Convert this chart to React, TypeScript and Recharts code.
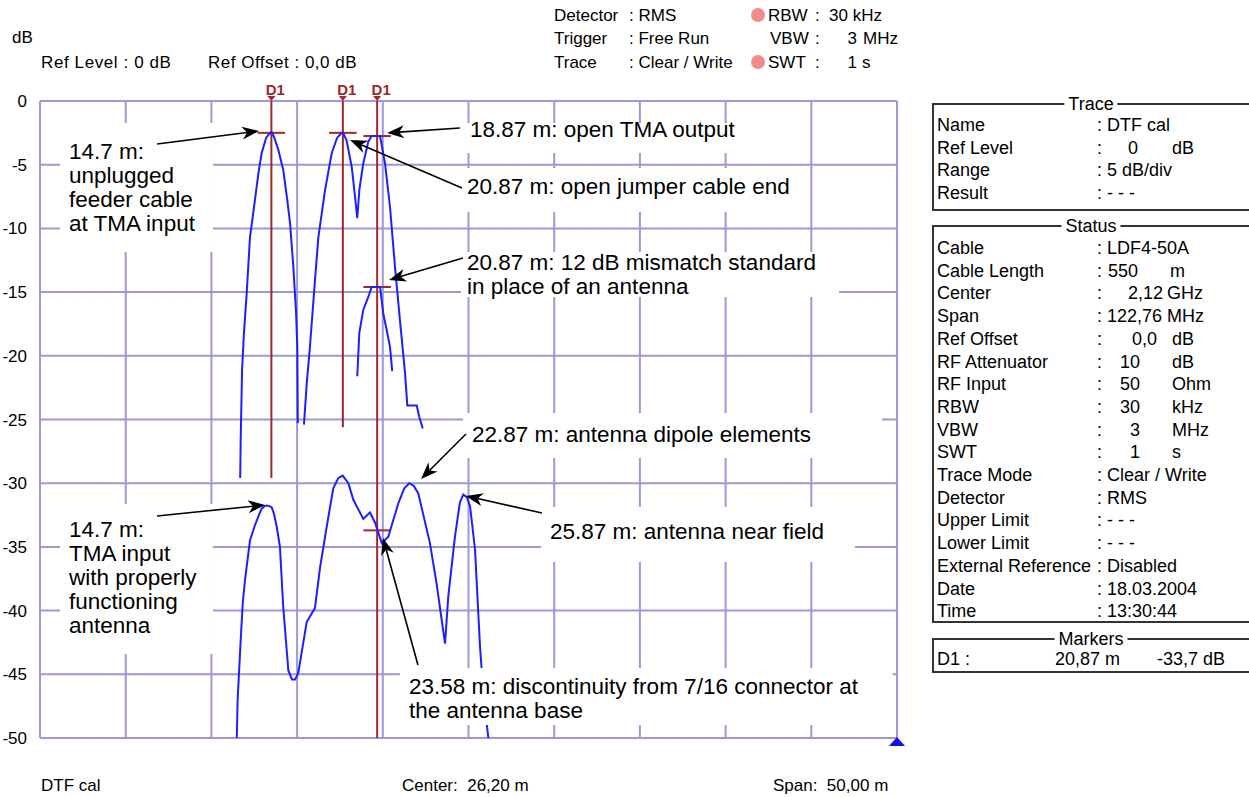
import React from 'react';
import {
  LineChart,
  Line,
  XAxis,
  YAxis,
  CartesianGrid,
  ReferenceLine,
  ReferenceArea,
  ReferenceDot,
} from 'recharts';

// ---------- axes ----------
const xTicks = [1.2, 6.2, 11.2, 16.2, 21.2, 26.2, 31.2, 36.2, 41.2, 46.2, 51.2];
const yTicks = [0, -5, -10, -15, -20, -25, -30, -35, -40, -45, -50];

// ---------- traces (distance m, level dB) ----------
const distA = [12.88, 12.91, 12.99, 13.1, 13.26, 13.45, 13.64, 13.94, 14.13, 14.39, 14.62, 14.71, 14.85, 15.1, 15.39, 15.63, 15.79, 15.98, 16.14, 16.21, 16.24];
const levelA = [-29.6, -26.5, -21.1, -18.2, -15.1, -10.7, -8.8, -5.7, -4.1, -2.9, -2.5, -2.45, -2.8, -3.8, -5.4, -7.8, -9.6, -13.0, -16.6, -19.3, -25.3];

const distB = [16.6, 16.76, 16.95, 17.24, 17.44, 17.83, 18.22, 18.53, 18.8, 18.88, 19.09, 19.39, 19.58, 19.71, 19.83, 20.06, 20.35, 20.55, 21.04, 21.33, 21.62, 21.91, 22.2, 22.5, 22.63, 23.18, 23.33, 23.53];
const levelB = [-25.4, -22.2, -19.3, -14.1, -10.7, -7.0, -4.1, -2.9, -2.5, -2.5, -3.1, -5.2, -7.5, -9.2, -7.0, -4.9, -3.2, -2.75, -2.75, -4.9, -8.3, -13.0, -17.2, -21.4, -23.9, -23.9, -24.8, -25.7];

const distC = [19.71, 19.83, 20.06, 20.35, 20.55, 21.04, 21.23, 21.43, 21.62, 21.75];
const levelC = [-21.6, -18.2, -16.4, -15.4, -14.6, -14.6, -16.7, -18.0, -19.3, -21.2];

const distD = [12.68, 12.73, 12.91, 13.03, 13.16, 13.45, 13.74, 14.0, 14.13, 14.3, 14.43, 14.6, 14.72, 14.85, 15.01, 15.2, 15.39, 15.69, 15.9, 16.08, 16.27, 16.76, 17.24, 17.54, 17.93, 18.31, 18.6, 18.86, 19.19, 19.48, 20.06, 20.45, 20.75, 21.14, 21.52, 22.1, 22.45, 22.75, 23.0, 23.27, 23.95, 24.34, 24.83, 25.02, 25.41, 25.7, 25.9, 26.1, 26.29, 26.58, 26.87, 27.1, 27.36];
const levelD = [-50, -47.0, -42.3, -39.4, -37.6, -34.5, -33.3, -32.4, -32.0, -31.8, -31.75, -31.8, -31.9, -32.4, -33.4, -35.0, -39.7, -44.7, -45.4, -45.4, -44.9, -40.9, -39.8, -36.6, -33.4, -30.4, -29.6, -29.4, -30.0, -31.3, -32.8, -32.3, -33.1, -34.7, -34.2, -31.6, -30.4, -30.0, -30.2, -30.8, -34.7, -37.9, -42.6, -38.9, -34.2, -31.5, -30.9, -31.1, -31.8, -35.2, -42.8, -47.0, -50];

// ---------- markers ----------
const markerDist = [14.7, 18.87, 20.87];
const markerBottom = [-29.6, -25.6, -50];
const markerTickDist = [14.7, 18.87, 20.87, 20.87, 20.87];
const markerTickLevel = [-2.5, -2.5, -2.75, -14.6, -33.7];
const markerTickHalf = 0.8;

// ---------- annotation arrows (tail -> tip, data coords) ----------
const arrowTail = [
  [8.03, -3.38], [25.7, -2.12], [25.82, -6.83], [25.88, -12.32],
  [26.05, -26.14], [30.49, -32.34], [8.03, -32.57], [23.25, -44.27],
];
const arrowTip = [
  [13.98, -2.35], [21.45, -2.51], [19.29, -3.06], [21.56, -14.05],
  [23.43, -29.67], [26.05, -31.0], [14.33, -31.71], [21.21, -34.3],
];

// ---------- annotation backgrounds (data coords) ----------
const boxX1 = [2.37, 2.37, 25.76, 25.76, 25.76, 25.88, 30.43, 22.2];
const boxX2 = [11.29, 11.29, 43.21, 45.54, 47.82, 50.33, 48.75, 50.95];
const boxY1 = [-1.73, -31.63, -1.73, -5.26, -11.85, -24.49, -31.87, -44.51];
const boxY2 = [-11.85, -43.41, -4.08, -8.71, -15.38, -28.02, -36.19, -48.98];

// ---------- annotation texts ----------
const noteLines = [
  ['14.7 m:', 'unplugged', 'feeder cable', 'at TMA input'],
  ['14.7 m:', 'TMA input', 'with properly', 'functioning', 'antenna'],
  ['18.87 m: open TMA output'],
  ['20.87 m: open jumper cable end'],
  ['20.87 m: 12 dB mismatch standard', 'in place of an antenna'],
  ['22.87 m: antenna dipole elements'],
  ['25.87 m: antenna near field'],
  ['23.58 m: discontinuity from 7/16 connector at', 'the antenna base'],
];
const noteLeft = [69, 69, 470, 467, 467, 472, 550, 409];
const noteTop = [152, 530, 130, 187, 263, 435, 532, 687];
const noteLineHeight = [24, 24, 24, 24, 24, 24, 24, 24];

// ---------- info panel ----------
const traceRows = ['Name', 'Ref Level', 'Range', 'Result'];
const traceVals: [string, number, string][][] = [
  [[': DTF cal', 1097, 's']],
  [[':', 1097, 's'], ['0', 1138, 'e'], ['dB', 1172, 's']],
  [[': 5 dB/div', 1097, 's']],
  [[': - - -', 1097, 's']],
];
const statusRows = ['Cable', 'Cable Length', 'Center', 'Span', 'Ref Offset', 'RF Attenuator', 'RF Input', 'RBW', 'VBW', 'SWT', 'Trace Mode', 'Detector', 'Upper Limit', 'Lower Limit', 'External Reference', 'Date', 'Time'];
const statusVals: [string, number, string][][] = [
  [[': LDF4-50A', 1097, 's']],
  [[':', 1097, 's'], ['550', 1138, 'e'], ['m', 1170, 's']],
  [[':', 1097, 's'], ['2,12', 1163, 'e'], ['GHz', 1167, 's']],
  [[': 122,76 MHz', 1097, 's']],
  [[':', 1097, 's'], ['0,0', 1157, 'e'], ['dB', 1172, 's']],
  [[':', 1097, 's'], ['10', 1140, 'e'], ['dB', 1172, 's']],
  [[':', 1097, 's'], ['50', 1140, 'e'], ['Ohm', 1172, 's']],
  [[':', 1097, 's'], ['30', 1140, 'e'], ['kHz', 1172, 's']],
  [[':', 1097, 's'], ['3', 1140, 'e'], ['MHz', 1172, 's']],
  [[':', 1097, 's'], ['1', 1140, 'e'], ['s', 1172, 's']],
  [[': Clear / Write', 1097, 's']],
  [[': RMS', 1097, 's']],
  [[': - - -', 1097, 's']],
  [[': - - -', 1097, 's']],
  [[': Disabled', 1097, 's']],
  [[': 18.03.2004', 1097, 's']],
  [[': 13:30:44', 1097, 's']],
];

const FONT = '"Liberation Sans", Arial, sans-serif';
const BLUE = '#1e1eff';
const GRID = '#9a9ad6';
const RED = '#a02828';

const zip = (xs: number[], ys: number[]) => xs.map((x, i) => ({ x, y: ys[i] }));
const traceA = zip(distA, levelA);
const traceB = zip(distB, levelB);
const traceC = zip(distC, levelC);
const traceD = zip(distD, levelD);

const ArrowShape = (p: any) => {
  const { x1, y1, x2, y2 } = p;
  const dx = x2 - x1;
  const dy = y2 - y1;
  const len = Math.hypot(dx, dy) || 1;
  const ux = dx / len;
  const uy = dy / len;
  const L = 17;
  const W = 6.5;
  const bx = x2 - ux * L;
  const by = y2 - uy * L;
  const nx = x2 - ux * (L - 5);
  const ny = y2 - uy * (L - 5);
  const pts = `${x2},${y2} ${bx - uy * W},${by + ux * W} ${nx},${ny} ${bx + uy * W},${by - ux * W}`;
  return (
    <g>
      <line x1={x1} y1={y1} x2={nx} y2={ny} stroke="#000" strokeWidth={1.6} />
      <polygon points={pts} fill="#000" />
    </g>
  );
};

const MarkerShape = (p: any) => {
  const { x1, y1, x2, y2 } = p;
  const top = Math.min(y1, y2);
  return (
    <g>
      <line x1={x1} y1={y1} x2={x2} y2={y2} stroke={RED} strokeWidth={2} />
      <polygon points={`${x1 - 4},${top - 5} ${x1 + 4},${top - 5} ${x1},${top}`} fill={RED} />
      <text x={x1 + 4} y={top - 6} textAnchor="middle" fontSize={15} fontWeight="bold" fill={RED} fontFamily={FONT}>
        D1
      </text>
    </g>
  );
};

const TriangleShape = (p: any) => {
  const { cx, cy } = p;
  return <polygon points={`${cx - 8},${cy + 8} ${cx + 8},${cy + 8} ${cx},${cy - 1}`} fill="#1010ee" />;
};

const EmptyTick = () => <g />;

const verticalGen = (props: any) => {
  const xAxis = props && props.xAxis;
  if (xAxis && typeof xAxis.scale === 'function') {
    return xTicks.map((t) => xAxis.scale(t));
  }
  const off = props.offset;
  return xTicks.map((t) => off.left + ((t - xTicks[0]) / (xTicks[xTicks.length - 1] - xTicks[0])) * off.width);
};

const T = ({ x, y, text, size = 17, anchor = 's', weight = 'normal', spacing = 0 }: any) => (
  <div
    style={{
      position: 'absolute',
      top: y,
      left: anchor === 's' ? x : undefined,
      right: anchor === 'e' ? 1249 - x : undefined,
      transform: 'translateY(-50%)',
      fontSize: size,
      lineHeight: `${size + 2}px`,
      letterSpacing: spacing,
      whiteSpace: 'pre',
      fontFamily: FONT,
      fontWeight: weight,
      color: '#000',
    }}
  >
    {text}
  </div>
);

const PanelBox = ({ top, bottom, title }: any) => (
  <>
    <div
      style={{
        position: 'absolute',
        left: 932,
        top,
        width: 330,
        height: bottom - top,
        borderTop: '2px solid #333',
        borderLeft: '2px solid #333',
        borderBottom: '2px solid #333',
        boxSizing: 'border-box',
      }}
    />
    <div
      style={{
        position: 'absolute',
        left: 1091,
        top: top + 1,
        transform: 'translate(-50%, -50%)',
        background: '#fff',
        padding: '0 4px',
        fontSize: 18,
        fontFamily: FONT,
        lineHeight: '20px',
      }}
    >
      {title}
    </div>
  </>
);

export default function App() {
  const rowH = 22.7;
  return (
    <div
      style={{
        position: 'absolute',
        left: 0,
        top: 0,
        width: 1249,
        height: 797,
        overflow: 'hidden',
        background: '#fff',
        fontFamily: FONT,
      }}
    >
      <LineChart
        width={1249}
        height={797}
        margin={{ top: 101, right: 352, bottom: 59, left: 0 }}
        style={{ position: 'absolute', left: 0, top: 0 }}
      >
        <CartesianGrid stroke={GRID} strokeWidth={2} verticalCoordinatesGenerator={verticalGen} />
        <XAxis
          type="number"
          dataKey="x"
          domain={[1.2, 51.2]}
          ticks={xTicks}
          interval={0}
          tick={EmptyTick}
          tickLine={false}
          axisLine={false}
          height={0}
          allowDataOverflow
        />
        <YAxis
          type="number"
          dataKey="y"
          domain={[-50, 0]}
          ticks={yTicks}
          interval={0}
          width={40}
          tickLine={false}
          axisLine={false}
          tickMargin={7}
          tick={{ fill: '#000', fontSize: 17, fontFamily: FONT }}
          allowDataOverflow
        />
        {markerDist.map((d, i) => (
          <ReferenceLine
            key={'m' + i}
            segment={[{ x: d, y: 0 }, { x: d, y: markerBottom[i] }]}
            stroke={RED}
            strokeWidth={2}
            shape={MarkerShape}
            zIndex={300}
          />
        ))}
        {markerTickDist.map((d, i) => (
          <ReferenceLine
            key={'t' + i}
            segment={[
              { x: d - markerTickHalf, y: markerTickLevel[i] },
              { x: d + markerTickHalf, y: markerTickLevel[i] },
            ]}
            stroke={RED}
            strokeWidth={2}
            zIndex={300}
          />
        ))}
        <Line data={traceA} dataKey="y" stroke={BLUE} strokeWidth={2} dot={false} isAnimationActive={false} type="linear" />
        <Line data={traceB} dataKey="y" stroke={BLUE} strokeWidth={2} dot={false} isAnimationActive={false} type="linear" />
        <Line data={traceC} dataKey="y" stroke={BLUE} strokeWidth={2} dot={false} isAnimationActive={false} type="linear" />
        <Line data={traceD} dataKey="y" stroke={BLUE} strokeWidth={2} dot={false} isAnimationActive={false} type="linear" />
        {boxX1.map((x1, i) => (
          <ReferenceArea
            key={'b' + i}
            x1={x1}
            x2={boxX2[i]}
            y1={boxY1[i]}
            y2={boxY2[i]}
            fill="#ffffff"
            fillOpacity={1}
            stroke="none"
            zIndex={450}
          />
        ))}
        {arrowTail.map((t, i) => (
          <ReferenceLine
            key={'a' + i}
            segment={[{ x: t[0], y: t[1] }, { x: arrowTip[i][0], y: arrowTip[i][1] }]}
            stroke="#000"
            shape={ArrowShape}
            zIndex={460}
          />
        ))}
        <ReferenceDot x={51.2} y={-50} r={6} shape={TriangleShape} zIndex={470} />
      </LineChart>

      {/* annotation texts */}
      {noteLines.map((lines, i) => (
        <div
          key={'n' + i}
          style={{
            position: 'absolute',
            left: noteLeft[i],
            top: noteTop[i] - noteLineHeight[i] / 2,
            fontSize: 22.5,
            lineHeight: `${noteLineHeight[i]}px`,
            fontFamily: FONT,
            whiteSpace: 'pre',
            color: '#000',
          }}
        >
          {lines.map((l, j) => (
            <div key={j}>{l}</div>
          ))}
        </div>
      ))}

      {/* header */}
      <T x={12} y={37} text="dB" />
      <T x={41} y={62} text="Ref Level : 0 dB" spacing={0.6} />
      <T x={208} y={62} text="Ref Offset : 0,0 dB" spacing={0.5} />
      <T x={554} y={15} text="Detector" />
      <T x={629} y={15} text=": RMS" />
      <T x={554} y={38} text="Trigger" />
      <T x={629} y={38} text=": Free Run" />
      <T x={554} y={62} text="Trace" />
      <T x={629} y={62} text=": Clear / Write" />
      <div style={{ position: 'absolute', left: 751, top: 8, width: 14, height: 14, borderRadius: 7, background: '#f08c8c' }} />
      <div style={{ position: 'absolute', left: 751, top: 55, width: 14, height: 14, borderRadius: 7, background: '#f08c8c' }} />
      <T x={768} y={15} text="RBW" />
      <T x={815} y={15} text=":" />
      <T x={829} y={15} text="30 kHz" />
      <T x={770} y={38} text="VBW" />
      <T x={815} y={38} text=":" />
      <T x={857} y={38} text="3" anchor="e" />
      <T x={863} y={38} text="MHz" />
      <T x={768} y={62} text="SWT" />
      <T x={815} y={62} text=":" />
      <T x={857} y={62} text="1" anchor="e" />
      <T x={862} y={62} text="s" />

      {/* footer */}
      <T x={41} y={785} text="DTF cal" />
      <T x={402} y={785} text="Center:  26,20 m" />
      <T x={773} y={785} text="Span:  50,00 m" />

      {/* info panel */}
      <PanelBox top={103} bottom={211} title="Trace" />
      <PanelBox top={225} bottom={623} title="Status" />
      <PanelBox top={638} bottom={673} title="Markers" />
      {traceRows.map((r, i) => (
        <React.Fragment key={'tr' + i}>
          <T x={937} y={125 + i * rowH} text={r} size={18} />
          {traceVals[i].map((v, j) => (
            <T key={j} x={v[1]} y={125 + i * rowH} text={v[0]} size={18} anchor={v[2]} />
          ))}
        </React.Fragment>
      ))}
      {statusRows.map((r, i) => (
        <React.Fragment key={'sr' + i}>
          <T x={937} y={248 + i * rowH} text={r} size={18} />
          {statusVals[i].map((v, j) => (
            <T key={j} x={v[1]} y={248 + i * rowH} text={v[0]} size={18} anchor={v[2]} />
          ))}
        </React.Fragment>
      ))}
      <T x={937} y={659} text="D1 :" size={18} />
      <T x={1055} y={659} text="20,87 m" size={18} />
      <T x={1157} y={659} text="-33,7 dB" size={18} />
    </div>
  );
}
